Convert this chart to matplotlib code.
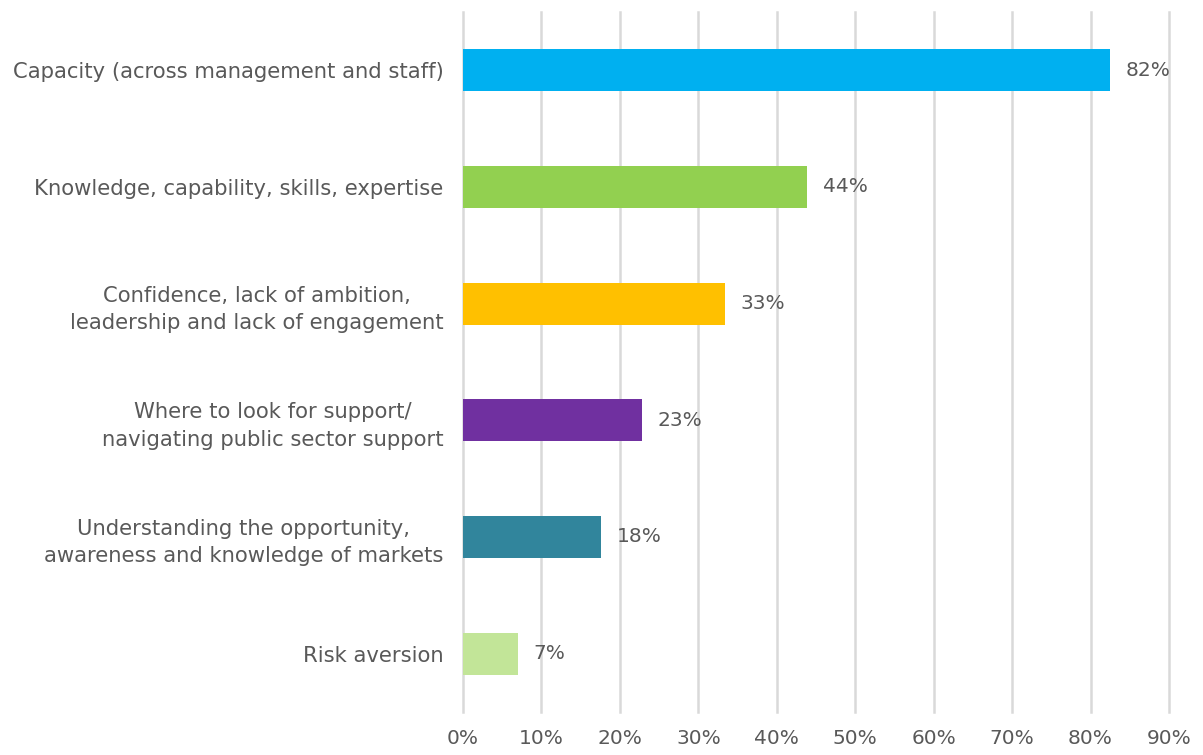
import matplotlib
matplotlib.use("Agg")
import matplotlib.pyplot as plt
from matplotlib.ticker import FuncFormatter

# DATA ----------------------------------------------------------------------

categories = [
    "Capacity (across management and staff)",
    "Knowledge, capability, skills, expertise",
    "Confidence, lack of ambition,\nleadership and lack of engagement",
    "Where to look for support/\nnavigating public sector support",
    "Understanding the opportunity,\nawareness and knowledge of markets",
    "Risk aversion",
]
values = [82.5, 43.9, 33.4, 22.8, 17.6, 7.0]
value_labels = ["82%", "44%", "33%", "23%", "18%", "7%"]
colors = ["#00B0F0", "#92D050", "#FFC000", "#7030A0", "#31859C", "#C2E598"]
x_ticks = list(range(0, 100, 10))

TEXT = "#595959"

# PLOT ----------------------------------------------------------------------

plt.rcParams['font.family'] = ['DejaVu Sans']

fig = plt.figure(figsize=(12.03, 7.55), dpi=100)
ax = fig.add_axes([0.3849, 0.057, 0.5868, 0.9271])

ypos = list(range(len(categories)))
ax.barh(ypos, values, height=0.36, color=colors, zorder=3)

for y, v, lab in zip(ypos, values, value_labels):
    ax.text(v + 2.0, y, lab, va='center', ha='left', fontsize=14.5, color=TEXT)

ax.set_xlim(0, 90)
ax.set_ylim(len(categories) - 0.5, -0.5)
ax.set_xticks(x_ticks)
ax.xaxis.set_major_formatter(FuncFormatter(lambda x, _: f"{x:.0f}%"))
ax.set_yticks(ypos)
ax.set_yticklabels(categories, ha='right', multialignment='center', linespacing=1.45)
ax.tick_params(axis='x', length=0, pad=12, labelsize=14.5, labelcolor=TEXT)
ax.tick_params(axis='y', length=0, pad=14, labelsize=15.2, labelcolor=TEXT)

ax.grid(axis='x', color='#D9D9D9', linewidth=1.8, zorder=0)
for line in ax.get_xgridlines():
    line.set_clip_on(False)
for s in ax.spines.values():
    s.set_visible(False)

fig.savefig("out.png", dpi=100)
